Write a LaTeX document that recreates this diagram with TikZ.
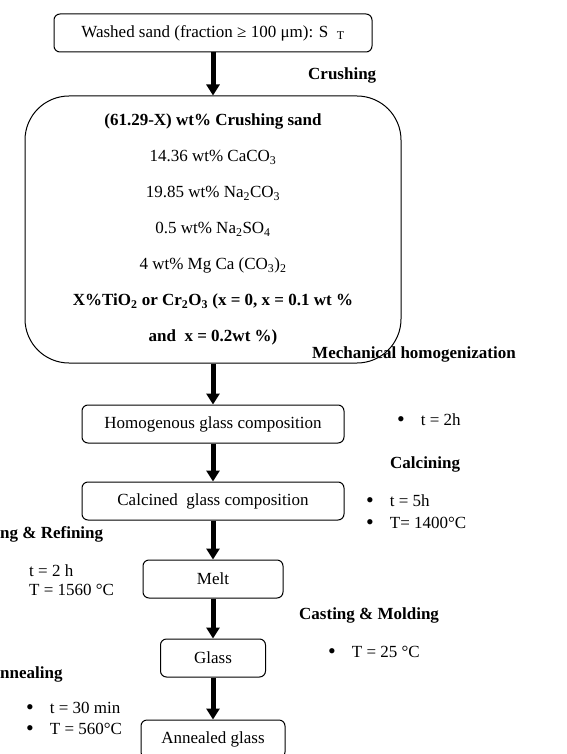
\documentclass[tikz,border=0pt]{standalone}
\usepackage{fontspec}
\setmainfont{Liberation Serif}
\usetikzlibrary{arrows.meta,positioning}
\newcommand{\dotitem}{\raisebox{-1pt}[0pt][0pt]{\fontsize{22}{20}\selectfont\textbullet}\hspace{16pt}}

\begin{document}
\begin{tikzpicture}[x=1pt,y=-1pt,
   font=\fontsize{17}{20}\selectfont,
   stage/.style={draw,rounded corners=6pt,line width=1pt,minimum height=38pt,align=center,inner sep=3pt},
   mixbox/.style={stage,rounded corners=44pt,minimum width=376pt,minimum height=267pt,font=\fontsize{17}{36}\selectfont},
   flow/.style={line width=5pt,-{Triangle[width=13pt,length=11pt]}},
   stepname/.style={anchor=west,inner sep=0pt,font=\fontsize{17}{20}\selectfont\bfseries},
   cond/.style={anchor=west,inner sep=0pt,align=left,font=\fontsize{17}{22}\selectfont}]
 \useasboundingbox (0,0) rectangle (566,754);
 \clip (0,0) rectangle (566,754);
 \node[stage,minimum width=318pt] (sand) at (213,33) {Washed sand (fraction ≥ 100 μm): S\,\,\,\textsubscript{T}};
 \node[mixbox,below=43pt of sand] (mix) {\textbf{(61.29-X) wt\% Crushing sand}\\
   14.36 wt\% CaCO\textsubscript{3}\\
   19.85 wt\% Na\textsubscript{2}CO\textsubscript{3}\\
   0.5 wt\% Na\textsubscript{2}SO\textsubscript{4}\\
   4 wt\% Mg Ca (CO\textsubscript{3})\textsubscript{2}\\
   \textbf{X\%TiO\textsubscript{2} or Cr\textsubscript{2}O\textsubscript{3} (x = 0, x = 0.1 wt \%}\\
   \textbf{and\ \ x = 0.2wt \%)}};
 \node[stage,minimum width=262pt,below=41pt of mix] (homog) {Homogenous glass composition};
 \node[stage,minimum width=262pt,below=38pt of homog] (calc) {Calcined\ \ glass composition};
 \node[stage,minimum width=140pt,below=39pt of calc] (melt) {Melt};
 \node[stage,minimum width=105pt,below=40pt of melt] (glass) {Glass};
 \node[stage,minimum width=144pt,below=42pt of glass] (anneal) {Annealed glass};
 \draw[flow] (sand) -- (mix);
 \draw[flow] (mix) -- (homog);
 \draw[flow] (homog) -- (calc);
 \draw[flow] (calc) -- (melt);
 \draw[flow] (melt) -- (glass);
 \draw[flow] (glass) -- (anneal);
 % process steps and conditions
 \node[stepname] (crush) at (308,75) {Crushing};
 \node[stepname] (mech) at (312,354) {Mechanical homogenization};
 \node[cond] (mechc) at (397,420) {\dotitem t = 2h};
 \node[stepname] (calcn) at (390,464) {Calcining};
 \node[cond] (calcc) at (366,512) {\dotitem t = 5h\\\dotitem T= 1400°C};
 \node[stepname] (refin) at (0,534) {ng \& Refining};
 \node[cond,font=\fontsize{17}{19}\selectfont] (refinc) at (29,580) {t = 2 h\\T = 1560 °C};
 \node[stepname] (cast) at (299,615) {Casting \& Molding};
 \node[cond] (castc) at (328,652) {\dotitem T = 25 °C};
 \node[stepname] (anneln) at (0,674) {nnealing};
 \node[cond,font=\fontsize{17}{21}\selectfont] (annelc) at (26,718) {\dotitem t = 30 min\\\dotitem T = 560°C};
\end{tikzpicture}
\end{document}
